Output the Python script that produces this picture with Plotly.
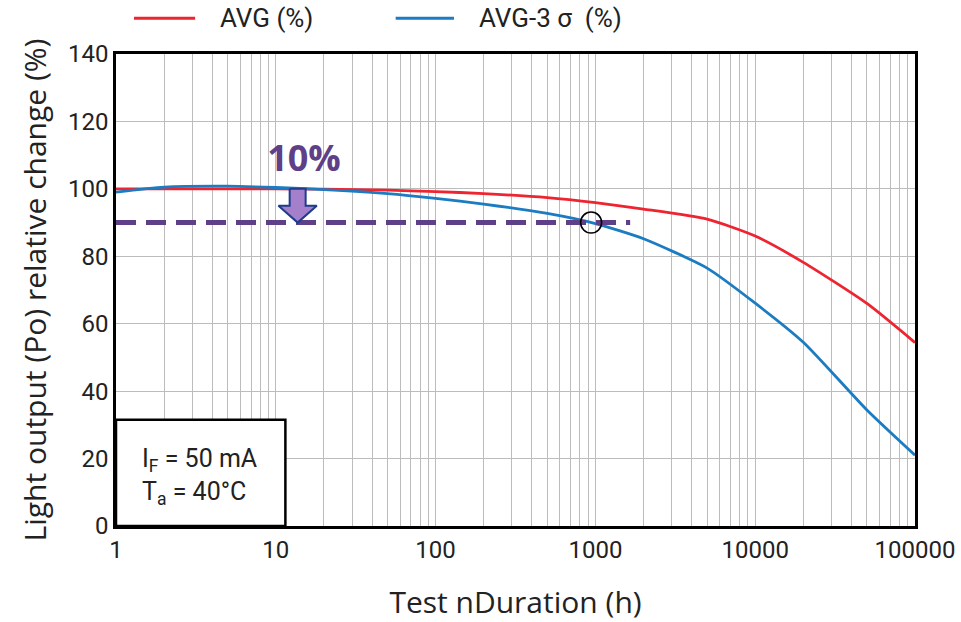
import numpy as np
import plotly.graph_objects as go

# test duration (h) and relative light output (%)
hours = [1, 2, 5, 10, 20, 50, 100, 200, 500, 1000, 2000, 5000, 10000, 20000, 50000, 100000]
avg_pct = [100, 100, 100, 100, 99.9, 99.6, 99.2, 98.6, 97.4, 95.9, 94.0, 91.0, 86.0, 78.2, 66.0, 54.4]
avg_3sigma_pct = [99.0, 100.5, 100.8, 100.4, 99.8, 98.6, 97.2, 95.5, 92.7, 89.7, 85.2, 76.5, 66.1, 54.5, 34.4, 21.0]

series_names = ["AVG (%)", "AVG-3 σ\u00a0\u00a0(%)"]
series_colors = ["#ee2530", "#1c7cc2"]

# 10 % drop marker
start_pct = 100
threshold_pct = 90
threshold_end_h = 1650
crossing_h = 940
arrow_h = 13.7
drop_label = "10%"
drop_label_pos = (15, 108)

x_decades = [1, 10, 100, 1000, 10000, 100000]
y_ticks = [0, 20, 40, 60, 80, 100, 120, 140]

cond_lines = ["I<sub>F</sub> = 50 mA", "T<sub>a</sub> = 40°C"]

NARROW = "Liberation Sans Narrow, Arial Narrow, Roboto, sans-serif"
SANS = "Open Sans, sans-serif"
PURPLE = "#5e3f88"

fig = go.Figure()

for vals, name, col in zip([avg_pct, avg_3sigma_pct], series_names, series_colors):
    fig.add_trace(go.Scatter(
        x=hours, y=vals, mode="lines", name=name,
        line=dict(color=col, width=2.8, shape="spline", smoothing=0.6),
        showlegend=False,
    ))

# dashed threshold line
fig.add_trace(go.Scatter(
    x=[1, threshold_end_h], y=[threshold_pct, threshold_pct], mode="lines",
    line=dict(color=PURPLE, width=5, dash="20px,10px"), showlegend=False,
))

# arrow from 100 down to 90 (built in log space around arrow_h)
lx = np.log10(arrow_h)
shaft, head = 0.05, 0.12
head_top = threshold_pct + 0.5 * (start_pct - threshold_pct)
ax_log = [lx - shaft, lx + shaft, lx + shaft, lx + head, lx, lx - head, lx - shaft, lx - shaft]
ay = [start_pct, start_pct, head_top, head_top, threshold_pct, head_top, head_top, start_pct]
fig.add_trace(go.Scatter(
    x=10 ** np.array(ax_log), y=ay, mode="lines", fill="toself",
    fillcolor="#a47fcb", line=dict(color="#1f3c8c", width=2), showlegend=False,
))

# crossing circle
fig.add_trace(go.Scatter(
    x=[crossing_h], y=[threshold_pct], mode="markers",
    marker=dict(symbol="circle-open", size=21, color="black", line=dict(width=1.6)),
    showlegend=False,
))

fig.add_trace(go.Scatter(
    x=[drop_label_pos[0]], y=[drop_label_pos[1]], mode="text", text=[drop_label],
    textfont=dict(family=SANS, size=36, color=PURPLE, weight="bold"),
    showlegend=False,
))

# x grid on every 1..9 of each decade
xgrid = [m * 10 ** d for d in range(5) for m in range(1, 10)] + [100000]
xtext = [str(v) if v in x_decades else "" for v in xgrid]

fig.update_xaxes(
    type="log", range=[0, 5], automargin=False,
    tickvals=xgrid, ticktext=xtext, ticks="",
    showgrid=True, gridcolor="#bcbcbc", gridwidth=1.2,
    showline=True, mirror=True, linecolor="black", linewidth=2.5,
    tickfont=dict(family=NARROW, size=24, color="#222"),
    title=dict(text="Test nDuration (h)", font=dict(family=SANS, size=30, color="#222"), standoff=30),
    zeroline=False,
)
fig.update_yaxes(
    range=[0, 140], automargin=False, tickvals=y_ticks, ticks="",
    showgrid=True, gridcolor="#bcbcbc", gridwidth=1.2,
    showline=True, mirror=True, linecolor="black", linewidth=2.5,
    tickfont=dict(family=NARROW, size=24, color="#222"),
    title=dict(text="Light output (Po) relative change (%)", font=dict(family=SANS, size=30, color="#222"), standoff=13),
    zeroline=False,
)

shapes = []
annotations = []

# condition box bottom-left
shapes.append(dict(type="rect", xref="paper", yref="paper", x0=0, x1=0.212, y0=0, y1=0.225,
                   fillcolor="white", line=dict(color="black", width=2.5), layer="above"))
for i, t in enumerate(cond_lines):
    annotations.append(dict(text=t, xref="paper", yref="paper", x=0.03, y=0.14 - i * 0.07,
                            xanchor="left", yanchor="middle", showarrow=False,
                            font=dict(family=NARROW, size=25, color="#222")))

# legend drawn above the plot
leg_x = [(0.0225, 0.099, 0.128), (0.35, 0.423, 0.452)]
for (x0, x1, xt), name, col in zip(leg_x, series_names, series_colors):
    shapes.append(dict(type="line", xref="paper", yref="paper", x0=x0, x1=x1, y0=1.076, y1=1.076,
                       line=dict(color=col, width=3)))
    annotations.append(dict(text=name, xref="paper", yref="paper", x=xt, y=1.076,
                            xanchor="left", yanchor="middle", showarrow=False,
                            font=dict(family=NARROW, size=26, color="#222")))

fig.update_layout(
    width=961, height=622,
    margin=dict(l=116, r=46, t=54, b=96),
    plot_bgcolor="white", paper_bgcolor="white",
    shapes=shapes, annotations=annotations,
)

# drop the default body margin so the figure fills the window
fig.write_html("out.html", config={"displayModeBar": False},
               post_script="document.body.style.margin='0';")
